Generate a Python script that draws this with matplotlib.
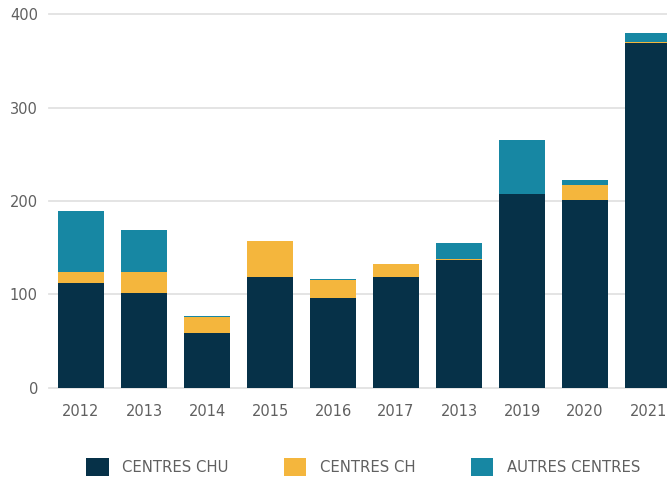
import matplotlib.pyplot as plt
import numpy as np

years = ["2012", "2013", "2014", "2015", "2016", "2017", "2013", "2019", "2020", "2021"]
chu = [112, 101, 59, 119, 96, 119, 137, 207, 201, 369]
ch = [12, 23, 17, 38, 19, 13, 1, 1, 16, 1.5]
autres = [65, 45, 1, 0, 1, 0, 17, 57, 6, 10]

colors = ["#063148", "#f4b63d", "#1787a3"]
labels = ["CENTRES CHU", "CENTRES CH", "AUTRES CENTRES"]

plt.rcParams['font.family'] = ['DejaVu Sans']

fig = plt.figure(figsize=(6.67, 4.79), dpi=100)
ax = fig.add_axes([49 / 667, (479 - 387.7) / 479, 1 - 49 / 667, (387.7 - 14.3) / 479])

x = np.arange(len(years))
chu_a = np.array(chu)
ch_a = np.array(ch)
au_a = np.array(autres)
w = 0.73
ax.bar(x, chu_a, w, color=colors[0], label=labels[0], zorder=3)
ax.bar(x, ch_a, w, bottom=chu_a, color=colors[1], label=labels[1], zorder=3)
ax.bar(x, au_a, w, bottom=chu_a + ch_a, color=colors[2], label=labels[2], zorder=3)

ax.set_xlim(-0.508, 9.30)
ax.set_ylim(0, 400)
ax.set_yticks([0, 100, 200, 300, 400])
ax.set_xticks(x)
ax.set_xticklabels(years)
ax.grid(axis='y', color='#e2e2e2', linewidth=1.3, zorder=0)
ax.set_axisbelow(True)
for s in ax.spines.values():
    s.set_visible(False)
ax.tick_params(length=0, labelsize=10.5, labelcolor='#606060')
ax.tick_params(axis='y', pad=8)
ax.tick_params(axis='x', pad=12)
for gl in ax.get_ygridlines():
    gl.set_clip_on(False)

fig.legend(loc='center left', bbox_to_anchor=(73 / 667, 1 - 467 / 479), ncol=3,
           frameon=False, fontsize=10.75, labelcolor='#606060',
           handlelength=1.5, handleheight=1.5, handletextpad=0.9,
           columnspacing=3.7)

fig.savefig("out.png", dpi=100)
